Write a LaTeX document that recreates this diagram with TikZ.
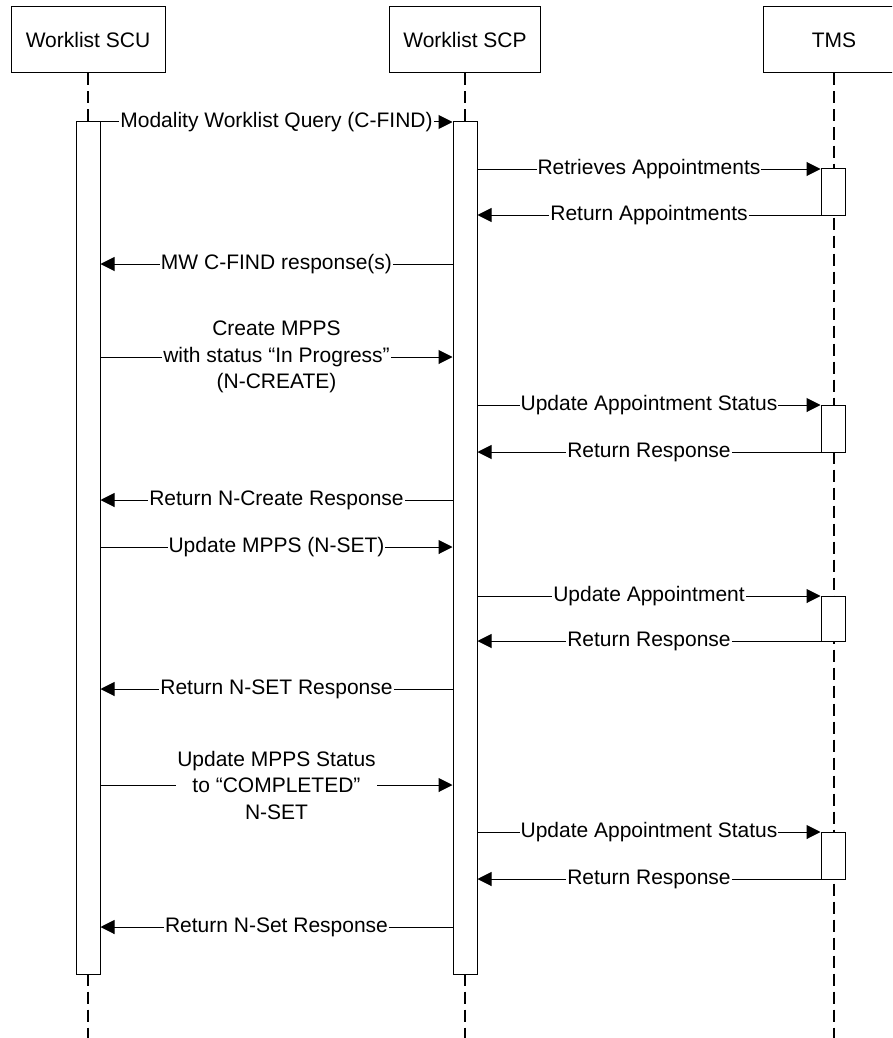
\documentclass[tikz,border=0pt]{standalone}
\usepackage{fontspec}
\setmainfont{Liberation Sans}
\usetikzlibrary{arrows.meta}
\begin{document}
\begin{tikzpicture}[x=1pt,y=-1pt,
  every node/.style={font=\fontsize{21}{26.5}\selectfont},
  actor/.style={draw,line width=1pt,fill=white,minimum height=66pt,inner sep=0pt},
  life/.style={line width=1.5pt,dash pattern=on 12pt off 6pt},
  actbox/.style={draw,line width=1pt,fill=white,minimum width=24pt,inner sep=0pt},
  msg/.style={line width=1pt,-{Triangle[length=14pt,width=14pt]}},
  lbl/.style={fill=white,inner sep=1pt,align=center}]
\useasboundingbox (0,0) rectangle (892,1038);
\clip (0,0) rectangle (892,1038);
% actors
\node[actor,minimum width=154pt] (scu) at (88,40) {Worklist SCU};
\node[actor,minimum width=151pt] (scp) at (465,40) {Worklist SCP};
\node[actor,minimum width=142pt] (tms) at (834,40) {TMS};
% lifeline ends
\coordinate (scuend) at (88,1040);
\coordinate (scpend) at (465,1040);
\coordinate (tmsend) at (834,1040);
\draw[life] (scu.south) -- (scuend);
\draw[life] (scp.south) -- (scpend);
\draw[life] (tms.south) -- (tmsend);
% activations
\node[actbox,minimum height=852pt] (scuA) at (88,548) {};
\node[actbox,minimum height=852pt] (scpA) at (465,548) {};
\node[actbox,minimum height=47pt] (tA1) at (833,192) {};
\node[actbox,minimum height=47pt] (tA2) at (833,428.5) {};
\node[actbox,minimum height=45pt] (tA3) at (833,618.5) {};
\node[actbox,minimum height=47pt] (tA4) at (833,855.5) {};
% message end points
\foreach \n/\y in {1/122,4/264,5/357,8/500,9/547,12/689,13/785,16/927}{
  \coordinate (a\n) at (scuA.east |- 0,\y);
  \coordinate (b\n) at (scpA.west |- 0,\y);
}
\foreach \n/\y in {2/169,3/215,6/405,7/452,10/596,11/641,14/832,15/879}{
  \coordinate (c\n) at (scpA.east |- 0,\y);
  \coordinate (d\n) at (tA1.west |- 0,\y);
}
% messages
\draw[msg] (a1) -- node[lbl]{Modality Worklist Query (C-FIND)} (b1);
\draw[msg] (c2) -- node[lbl]{Retrieves Appointments} (d2);
\draw[msg] (d3) -- node[lbl]{Return Appointments} (c3);
\draw[msg] (b4) -- node[lbl]{MW C-FIND response(s)} (a4);
\draw[msg] (a5) -- node[lbl]{Create MPPS\\with status “In Progress”\\(N-CREATE)} (b5);
\draw[msg] (c6) -- node[lbl]{Update Appointment Status} (d6);
\draw[msg] (d7) -- node[lbl]{Return Response} (c7);
\draw[msg] (b8) -- node[lbl]{Return N-Create Response} (a8);
\draw[msg] (a9) -- node[lbl]{Update MPPS (N-SET)} (b9);
\draw[msg] (c10) -- node[lbl]{Update Appointment} (d10);
\draw[msg] (d11) -- node[lbl]{Return Response} (c11);
\draw[msg] (b12) -- node[lbl]{Return N-SET Response} (a12);
\draw[msg] (a13) -- node[lbl]{Update MPPS Status\\to “COMPLETED”\\N-SET} (b13);
\draw[msg] (c14) -- node[lbl]{Update Appointment Status} (d14);
\draw[msg] (d15) -- node[lbl]{Return Response} (c15);
\draw[msg] (b16) -- node[lbl]{Return N-Set Response} (a16);
\end{tikzpicture}
\end{document}
